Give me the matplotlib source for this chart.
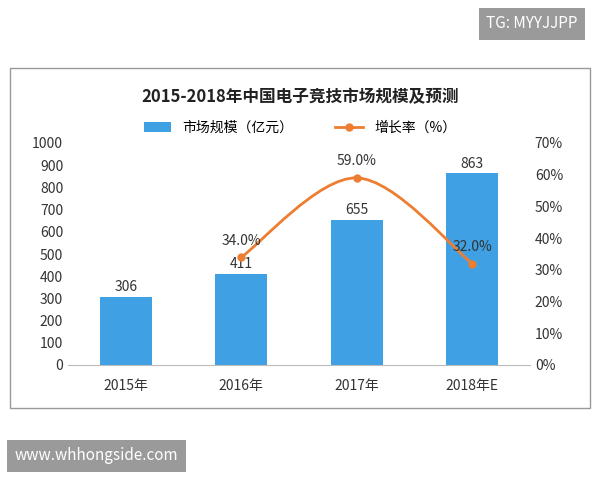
import matplotlib
matplotlib.use("Agg")
import matplotlib.pyplot as plt
from matplotlib.path import Path
from matplotlib.patches import PathPatch, Rectangle
import numpy as np

plt.rcParams['font.family'] = ['Noto Sans CJK SC', 'DejaVu Sans']

categories = ["2015年", "2016年", "2017年", "2018年E"]
market = [306, 411, 655, 863]
growth = [None, 34.0, 59.0, 32.0]
title = "2015-2018年中国电子竞技市场规模及预测"

fig = plt.figure(figsize=(6, 4.8), dpi=100)
fig.patches.append(Rectangle((10/600, 1-408/480), 580/600, 340/480, transform=fig.transFigure,
                             fill=False, edgecolor='#999999', lw=1))
ax = fig.add_axes([68/600, 1-365/480, 462/600, 222/480])
x = np.arange(len(categories))
ax.bar(x, market, width=0.45, color='#3FA0E4', label='市场规模（亿元）', zorder=2)
for xi, v in zip(x, market):
    ax.text(xi, v + 12, str(v), ha='center', va='bottom', fontsize=10, color='#333333')
ax.set_ylim(0, 1000)
ax.set_yticks(range(0, 1001, 100))
ax.set_xlim(-0.5, 3.5)
ax.set_xticks(x)
ax.set_xticklabels(categories, fontsize=10, color='#333333')
ax.tick_params(axis='y', labelsize=10, colors='#333333', length=0)
ax.tick_params(axis='x', length=0, pad=10)
for s in ['top', 'left', 'right']:
    ax.spines[s].set_visible(False)
ax.spines['bottom'].set_color('#bbbbbb')

ax2 = ax.twinx()
ax2.set_ylim(0, 70)
ax2.set_yticks(range(0, 71, 10))
ax2.set_yticklabels([f"{v}%" for v in range(0, 71, 10)])
ax2.tick_params(axis='y', labelsize=10, colors='#333333', length=0)
for s in ax2.spines.values():
    s.set_visible(False)

gx = [xi for xi, g in zip(x, growth) if g is not None]
gy = [g for g in growth if g is not None]
pts = np.array(list(zip(gx, gy)), dtype=float)
verts = [pts[0]]
codes = [Path.MOVETO]
n = len(pts)
for i in range(n - 1):
    p0 = pts[i - 1] if i > 0 else pts[i]
    p1, p2 = pts[i], pts[i + 1]
    p3 = pts[i + 2] if i + 2 < n else pts[i + 1]
    c1 = p1 + (p2 - p0) / 6
    c2 = p2 - (p3 - p1) / 6
    verts += [c1, c2, p2]
    codes += [Path.CURVE4] * 3
ax2.add_patch(PathPatch(Path(verts, codes), fill=False, edgecolor='#ED7D31', lw=2, zorder=3))
ax2.plot(gx, gy, 'o', color='#ED7D31', ms=5, zorder=4)
ax2.plot([], [], '-o', color='#ED7D31', lw=2, ms=5, label='增长率（%）')
for xi, g in zip(gx, gy):
    ax2.text(xi, g + 3, f"{g:.1f}%", ha='center', va='bottom', fontsize=10, color='#333333')

h1, l1 = ax.get_legend_handles_labels()
h2, l2 = ax2.get_legend_handles_labels()
fig.legend(h1 + h2, l1 + l2, loc='center', bbox_to_anchor=(300/600, 1-128/480), ncol=2,
           frameon=False, fontsize=10, handlelength=2, columnspacing=3)
fig.text(300/600, 1-97/480, title, ha='center', va='center', fontsize=12, fontweight='bold', color='#222222')

fig.text(532/600, 1-24/480, "TG: MYYJJPP", ha='center', va='center', fontsize=11, color='white',
         bbox=dict(boxstyle='square,pad=0.5', fc='#9a9a9a', ec='none'))
fig.text(15/600, 1-456/480, "www.whhongside.com", ha='left', va='center', fontsize=11, color='white',
         bbox=dict(boxstyle='square,pad=0.5', fc='#9a9a9a', ec='none'))

fig.savefig("out.png", dpi=100)
